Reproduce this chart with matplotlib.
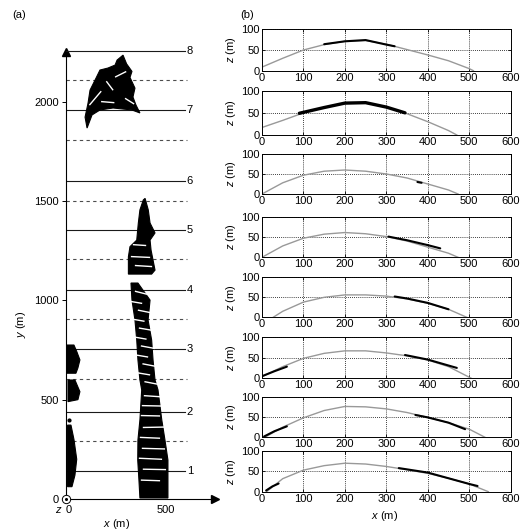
import matplotlib
matplotlib.use("Agg")
import matplotlib.pyplot as plt

plt.rcParams['font.family'] = ['Liberation Sans', 'DejaVu Sans']
plt.rcParams['font.size'] = 8
plt.rcParams['mathtext.fontset'] = 'custom'
plt.rcParams['mathtext.it'] = 'Liberation Sans:italic'
plt.rcParams['mathtext.rm'] = 'Liberation Sans'

# ---- panel (a): plan view of the point cloud ----
solid_y = [141, 440, 753, 1052, 1355, 1600, 1956, 2256]
solid_lbl = ['1', '2', '3', '4', '5', '6', '7', '8']
dashed_y = [292, 602, 904, 1206, 1500, 1808, 2107]
yticks_a = [0, 500, 1000, 1500, 2000]
xticks_a = [0, 500]

# outlines of the point clusters (x, y in m)
crown_x = [287, 305, 332, 322, 347, 337, 352, 372, 332, 237, 171, 131, 106, 96, 111, 121, 146, 171, 211, 247, 257]
crown_y = [2234, 2190, 2152, 2122, 2068, 2023, 1983, 1943, 1958, 1968, 1958, 1933, 1867, 1922, 1993, 2058, 2108, 2159, 2169, 2184, 2209]
tower_x = [398, 414, 423, 448, 423, 428, 448, 431, 314, 314, 322, 356, 364, 372, 389]
tower_y = [1513, 1455, 1389, 1339, 1303, 1253, 1152, 1132, 1132, 1219, 1270, 1303, 1389, 1455, 1505]
band_x = [372, 367, 361, 362, 372, 381, 372, 362, 356, 347, 332, 327,
          362, 423, 413, 431, 438, 448, 463, 482, 498, 513, 513, 513]
band_y = [5, 96, 196, 297, 398, 549, 599, 700, 800, 901, 1001, 1087,
          1087, 1001, 901, 800, 700, 599, 549, 398, 297, 196, 96, 5]
strip1_x = [5, 5, 40, 55, 70, 60, 50]
strip1_y = [633, 775, 775, 740, 700, 660, 633]
strip2_x = [10, 10, 45, 70, 60]
strip2_y = [490, 599, 599, 540, 500]
strip3_x = [8, 8, 25, 40, 54, 45, 30]
strip3_y = [62, 372, 372, 300, 200, 120, 62]
dot_x = [15]
dot_y = [398]

# white gaps between the rows of points: (x0, x1, y0, y1)
gaps = [
    (350, 410, 1045, 1030), (322, 380, 995, 985), (365, 425, 950, 938),
    (335, 392, 905, 895), (370, 440, 860, 848), (345, 402, 815, 805),
    (380, 445, 770, 758), (350, 410, 725, 715), (388, 450, 680, 668),
    (360, 420, 635, 625), (398, 460, 590, 578),
    (395, 470, 520, 515), (385, 480, 470, 468), (380, 470, 420, 418),
    (390, 490, 360, 362), (375, 470, 310, 306), (385, 495, 255, 252),
    (370, 480, 205, 200), (390, 500, 150, 148), (380, 470, 95, 92),
    (340, 400, 1280, 1276), (330, 420, 1220, 1216), (350, 430, 1175, 1170),
    (180, 240, 2000, 1995), (120, 175, 1985, 2050), (250, 300, 2125, 2150),
    (300, 340, 2015, 1990), (205, 235, 2100, 2060),
]

# ---- panel (b): eight profiles z(x) ----
curve_x = [
    [3, 50, 100, 150, 200, 250, 300, 350, 400, 450, 500, 510],
    [0, 50, 100, 150, 200, 250, 300, 350, 400, 450, 470],
    [0, 50, 100, 150, 200, 250, 300, 350, 400, 450, 473],
    [0, 50, 100, 150, 200, 250, 300, 350, 400, 450, 473],
    [27, 50, 100, 150, 200, 250, 300, 350, 400, 450, 494],
    [0, 50, 100, 150, 200, 250, 300, 350, 400, 450, 505],
    [7, 50, 100, 150, 200, 250, 300, 350, 400, 450, 500, 538],
    [11, 50, 100, 150, 200, 250, 300, 350, 400, 450, 500, 546],
]
curve_z = [
    [10, 30, 50, 63, 71, 73, 64, 51, 38, 24, 5, 0],
    [17, 33, 50, 62, 71, 72, 63, 48, 30, 10, 0],
    [0, 28, 47, 57, 60, 57, 50, 40, 25, 10, 0],
    [0, 28, 47, 57, 61, 58, 51, 40, 25, 10, 0],
    [0, 15, 38, 50, 56, 56, 53, 46, 35, 20, 0],
    [4, 28, 48, 60, 66, 66, 61, 54, 44, 28, 0],
    [0, 25, 48, 66, 76, 75, 70, 61, 49, 36, 20, 0],
    [0, 32, 53, 64, 70, 68, 62, 54, 45, 33, 19, 0],
]
# measured points, as runs along each profile
pts_x = [
    [[150, 200, 250, 300, 320]],
    [[90, 150, 200, 250, 300, 345]],
    [[375, 385]],
    [[305, 350, 400, 430]],
    [[320, 350, 400, 450]],
    [[0, 30, 60], [345, 400, 470]],
    [[5, 30, 60], [370, 400, 450, 490]],
    [[10, 25, 40], [330, 400, 450, 500, 520]],
]
pts_z = [
    [[64, 71, 74, 63, 59]],
    [[49, 62, 72, 73, 63, 50]],
    [[30, 28]],
    [[51, 42, 30, 22]],
    [[52, 47, 36, 20]],
    [[5, 17, 28], [56, 45, 25]],
    [[2, 15, 27], [55, 49, 36, 20]],
    [[3, 13, 20], [58, 47, 33, 19, 14]],
]
xticks_b = [0, 100, 200, 300, 400, 500, 600]
yticks_b = [0, 50, 100]

W, H = 524, 532
fig = plt.figure(figsize=(W / 100, H / 100), dpi=100)


def box(x0, y0, x1, y1):
    # pixel box (top-left origin) -> figure fraction
    return [x0 / W, (H - y1) / H, (x1 - x0) / W, (y1 - y0) / H]


# panel (a)
ax = fig.add_axes(box(66, 46, 220, 499))
ax.set_xlim(0, 775)
ax.set_ylim(0, 2280)
for s in ['top', 'right']:
    ax.spines[s].set_visible(False)
ax.spines['left'].set_bounds(0, 2250)
ax.spines['bottom'].set_bounds(0, 750)
ax.spines['left'].set_linewidth(0.8)
ax.spines['bottom'].set_linewidth(0.8)
ax.plot([0], [2250], marker='^', color='k', ms=6, clip_on=False)
ax.plot([750], [0], marker='>', color='k', ms=6, clip_on=False)
ax.set_yticks(yticks_a)
ax.set_xticks(xticks_a)
ax.tick_params(axis='y', direction='out', length=3, width=0.7, pad=2)
ax.tick_params(axis='x', length=0, pad=4)
ax.get_xticklabels()[0].set_ha('left')

for yy in solid_y:
    ax.plot([0, 600], [yy, yy], color='0.1', lw=0.8)
for yy, t in zip(solid_y, solid_lbl):
    ax.text(608, yy, t, ha='left', va='center', fontsize=8)
for yy in dashed_y:
    ax.plot([0, 610], [yy, yy], color='0.3', lw=0.8, ls=(0, (3, 3)))

for px, py in [(crown_x, crown_y), (tower_x, tower_y), (band_x, band_y),
               (strip1_x, strip1_y), (strip2_x, strip2_y), (strip3_x, strip3_y)]:
    ax.fill(px, py, color='k', lw=0.8, ec='k', zorder=3)
ax.plot(dot_x, dot_y, 'o', color='k', ms=2)
for x0, x1, y0, y1 in gaps:
    ax.plot([x0, x1], [y0, y1], color='white', lw=1.0, zorder=4)

# origin symbol (z axis out of page)
ax.plot([0], [0], 'o', mfc='white', mec='k', ms=6, mew=0.7, clip_on=False, zorder=5)
ax.plot([0], [0], 'o', color='k', ms=1.2, clip_on=False, zorder=6)
fig.text(59 / W, 1 - 510 / H, '$z$', ha='center', va='center', fontsize=8)

fig.text(19 / W, 1 - 15 / H, '(a)', ha='center', va='center', fontsize=8)
fig.text(117 / W, 1 - 524 / H, '$x$ (m)', ha='center', va='center', fontsize=8)
fig.text(21 / W, 1 - 324 / H, '$y$ (m)', ha='center', va='center', fontsize=8, rotation=90)

# panel (b)
tops = [29.3, 90.7, 154, 216.7, 277.3, 336.7, 396.7, 451]
bots = [70.7, 135, 194, 257.3, 317.3, 378.3, 437.3, 491.7]
for i in range(8):
    bx = fig.add_axes(box(262, tops[i], 510.7, bots[i]))
    bx.set_xlim(0, 600)
    bx.set_ylim(0, 100)
    bx.set_xticks(xticks_b)
    bx.set_yticks(yticks_b)
    bx.tick_params(direction='in', length=2.5, width=0.6, top=True, right=True, pad=1.5)
    bx.grid(True, color='k', lw=0.6, ls=(0, (1, 1.5)))
    for s in bx.spines.values():
        s.set_linewidth(0.7)
    bx.plot(curve_x[i], curve_z[i], color='0.6', lw=1.0)
    for sx, sz in zip(pts_x[i], pts_z[i]):
        bx.plot(sx, sz, color='k', lw=1.5 if i != 1 else 2.4, solid_capstyle='round')
    ymid = (tops[i] + bots[i]) / 2
    fig.text(231 / W, 1 - ymid / H, '$z$ (m)', ha='center', va='center', fontsize=8, rotation=90)

fig.text(247 / W, 1 - 15 / H, '(b)', ha='center', va='center', fontsize=8)
fig.text(385 / W, 1 - 516 / H, '$x$ (m)', ha='center', va='center', fontsize=8)

fig.savefig('out.png', dpi=100)
